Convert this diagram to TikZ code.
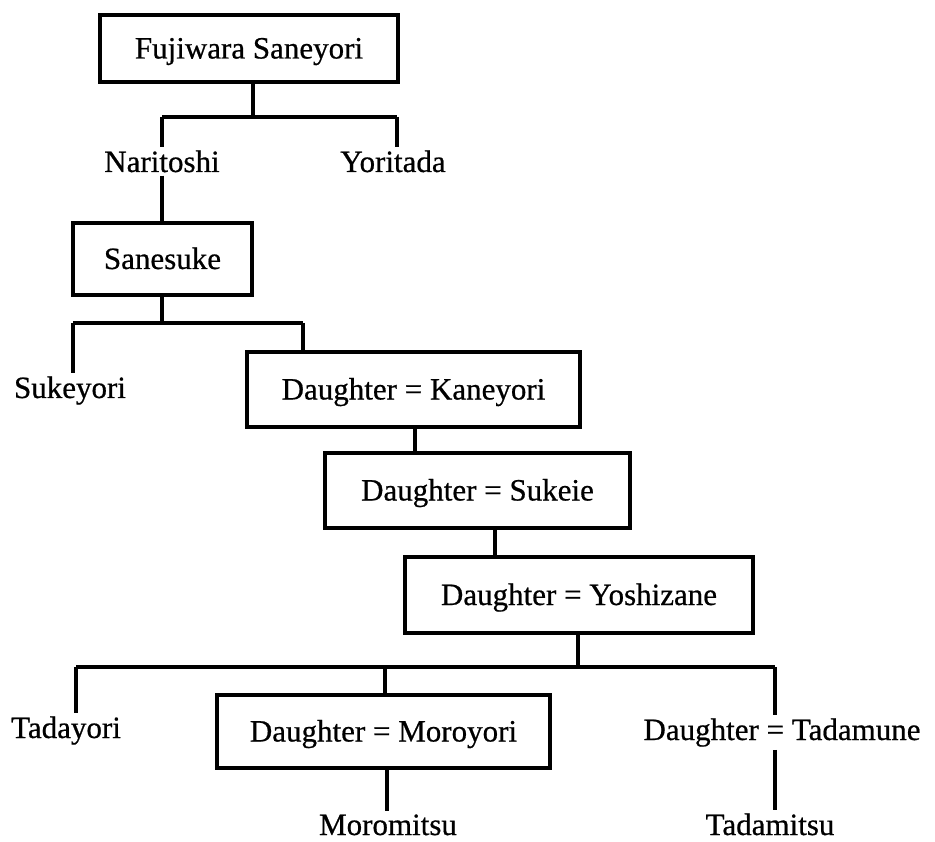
\documentclass[tikz,border=0pt]{standalone}
\usepackage{fontspec}
\setmainfont{Liberation Serif}
\newfontfamily\inkfont[FakeBold=0.6]{Liberation Serif}
\begin{document}
\begin{tikzpicture}[x=1pt,y=-1pt,
  every node/.style={font=\inkfont\fontsize{31}{36}\selectfont},
  box/.style={draw, line width=3.6pt, inner sep=0pt, text height=27pt, text depth=7pt, minimum height=#1},
  box/.default=73pt,
  lbl/.style={inner sep=3pt, anchor=base},
  conn/.style={line width=3.3pt}]
\useasboundingbox[fill=white] (0,0) rectangle (935,842);

% boxes
\node[box=67pt, minimum width=298pt] (fuj) at (249,48.5) {Fujiwara Saneyori};
\node[box=72pt, minimum width=179pt] (san) at (162.5,259) {Sanesuke};
\node[box=75pt, minimum width=333pt] (kan) at (413.5,389.5) {Daughter = Kaneyori};
\node[box=75pt, minimum width=305pt] (suk) at (477.5,490.5) {Daughter = Sukeie};
\node[box=76pt, minimum width=348pt] (yos) at (579,595) {Daughter = Yoshizane};
\node[box=73pt, minimum width=333pt] (mor) at (383.5,731.5) {Daughter = Moroyori};

% plain labels (placed at baseline)
\node[lbl] (nar) at (162,172) {Naritoshi};
\node[lbl] (yor) at (393,172) {Yoritada};
\node[lbl] (skr) at (70,398) {Sukeyori};
\node[lbl] (tdy) at (66,738) {Tadayori};
\node[lbl] (tdm) at (782,740) {Daughter = Tadamune};
\node[lbl] (mmt) at (388,835) {Moromitsu};
\node[lbl] (tmt) at (770,835) {Tadamitsu};

% junction coordinates
\coordinate (h1) at (253,117);
\coordinate (h1l) at (162,117);
\coordinate (h1r) at (397,117);
\coordinate (h2) at (162,323);
\coordinate (h2l) at (73,323);
\coordinate (h2r) at (303,323);
\coordinate (c3) at (415,440);
\coordinate (c4) at (495,540);
\coordinate (h3) at (578,667);
\coordinate (h3l) at (76,667);
\coordinate (h3m) at (385,667);
\coordinate (h3r) at (775,667);
\coordinate (c5) at (387,790);

% connectors
\draw[conn] (fuj.south -| h1) -- (h1);
\draw[conn] (h1l) -- (h1r);
\draw[conn] (h1l) -- (nar.north -| h1l);
\draw[conn] (h1r) -- (yor.north -| h1r);
\draw[conn] (nar.south -| h1l) -- (san.north -| h1l);
\draw[conn] (san.south -| h2) -- (h2);
\draw[conn] (h2l) -- (h2r);
\draw[conn] (h2l) -- (skr.north -| h2l);
\draw[conn] (h2r) -- (kan.north -| h2r);
\draw[conn] (kan.south -| c3) -- (suk.north -| c3);
\draw[conn] (suk.south -| c4) -- (yos.north -| c4);
\draw[conn] (yos.south -| h3) -- (h3);
\draw[conn] (h3l) -- (h3r);
\draw[conn] (h3l) -- (tdy.north -| h3l);
\draw[conn] (h3m) -- (mor.north -| h3m);
\draw[conn] (h3r) -- (tdm.north -| h3r);
\draw[conn] (mor.south -| c5) -- (mmt.north -| c5);
\draw[conn] (tdm.south -| h3r) -- (tmt.north -| h3r);
\end{tikzpicture}
\end{document}
